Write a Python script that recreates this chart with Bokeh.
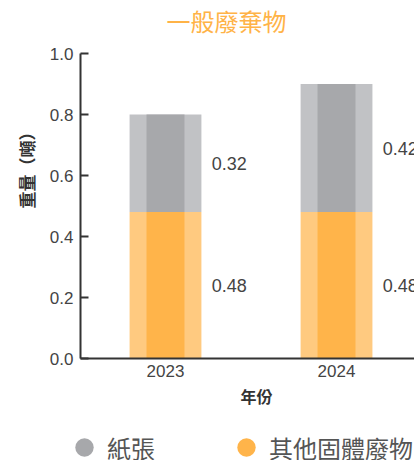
from bokeh.plotting import figure
from bokeh.models import (ColumnDataSource, FixedTicker, Legend, LegendItem, Title, Label,
                          Range1d, NumeralTickFormatter)
from bokeh.embed import file_html
from bokeh.resources import INLINE
from bokeh.core.properties import value

# ---- data ----
years = ["2023", "2024"]
paper = [0.32, 0.42]
other = [0.48, 0.48]
y_ticks = [0.0, 0.2, 0.4, 0.6, 0.8, 1.0]
series_names = ["紙張", "其他固體廢物"]
title_text = "一般廢棄物"
x_label = "年份"
y_label = "重量（噸）"

# ---- styling ----
GRAY_OUT, GRAY_IN = "#C1C2C5", "#A7A8AB"
ORG_OUT, ORG_IN = "#FFCA80", "#FFB44A"
TXT = "#333333"
LATIN = "Liberation Sans"
CJK = "Noto Sans CJK TC"


def strip(height):
    f = figure(width=414, height=height, x_range=Range1d(0, 1), y_range=Range1d(0, 1),
               output_backend="svg", toolbar_location=None, title_location=None,
               x_axis_location=None, y_axis_location=None,
               min_border=0, min_border_left=0, min_border_right=0,
               min_border_top=0, min_border_bottom=0)
    f.outline_line_color = None
    f.grid.visible = False
    f.background_fill_color = "white"
    f.border_fill_color = "white"
    return f


# ---- title strip ----
top_strip = strip(40)
top_strip.add_layout(Label(x=226, y=20.5, x_units="screen", y_units="screen", text=title_text,
                           text_align="center", text_baseline="middle", text_font=CJK,
                           text_font_size="24px", text_color="#FFB347"))

# ---- main chart ----
xs = list(range(len(years)))
top = [o + q for o, q in zip(other, paper)]
src = ColumnDataSource(dict(
    x=xs, other=other, paper=paper, top=top,
    zero=[0] * len(xs),
    mid_other=[o / 2 for o in other],
    mid_paper=[o + q / 2 for o, q in zip(other, paper)],
    lx=[v + 0.27 for v in xs],
    lab_other=[f"{v:.2f}" for v in other],
    lab_paper=[f"{v:.2f}" for v in paper],
))

p = figure(width=414, height=380, x_range=Range1d(-0.497, 1.456), y_range=Range1d(0, 1),
           output_backend="svg", toolbar_location=None, title_location=None,
           min_border_left=80, min_border_right=0, min_border_top=13, min_border_bottom=62)
p.outline_line_color = None
p.grid.visible = False
p.background_fill_color = "white"
p.border_fill_color = "white"

W_OUT, W_IN = 0.42, 0.222
p.vbar(x="x", bottom="zero", top="other", width=W_OUT, source=src, fill_color=ORG_OUT, line_color=None)
p.vbar(x="x", bottom="zero", top="other", width=W_IN, source=src, fill_color=ORG_IN, line_color=None)
p.vbar(x="x", bottom="other", top="top", width=W_OUT, source=src, fill_color=GRAY_OUT, line_color=None)
p.vbar(x="x", bottom="other", top="top", width=W_IN, source=src, fill_color=GRAY_IN, line_color=None)

for col, ycol in (("lab_paper", "mid_paper"), ("lab_other", "mid_other")):
    p.text(x="lx", y=ycol, text=col, source=src, text_align="left", text_baseline="middle",
           text_font=value(LATIN), text_font_size="18px", text_color="#444444")

ya = p.yaxis[0]
ya.ticker = FixedTicker(ticks=y_ticks)
ya.formatter = NumeralTickFormatter(format="0.0")
ya.major_tick_in = 8
ya.major_tick_out = 0
ya.minor_tick_line_color = None
ya.axis_line_width = 2
ya.axis_line_color = TXT
ya.major_tick_line_width = 2
ya.major_tick_line_color = TXT
ya.major_label_text_font = LATIN
ya.major_label_text_font_size = "17px"
ya.major_label_text_color = "#444444"
ya.major_label_standoff = 7

xa = p.xaxis[0]
xa.ticker = FixedTicker(ticks=xs)
xa.major_label_overrides = {i: y for i, y in zip(xs, years)}
xa.major_tick_in = 0
xa.major_tick_out = 0
xa.minor_tick_line_color = None
xa.axis_line_width = 2
xa.axis_line_color = TXT
xa.major_label_text_font = LATIN
xa.major_label_text_font_size = "17px"
xa.major_label_text_color = "#444444"
xa.major_label_standoff = 6

p.add_layout(Title(text=x_label, align="left", offset=160, standoff=5, text_font=CJK,
                   text_font_size="16px", text_font_style="bold", text_color=TXT), "below")
p.add_layout(Title(text=y_label, align="left", offset=150, standoff=15,
                   text_font=CJK, text_font_size="17px", text_font_style="bold",
                   text_color=TXT), "left")

# ---- legend strip ----
lg = strip(40)
r_g = lg.scatter(x=xs, y=paper, size=0, marker="circle", fill_color=GRAY_IN, line_color=None)
r_o = lg.scatter(x=xs, y=other, size=0, marker="circle", fill_color=ORG_IN, line_color=None)
legend = Legend(items=[LegendItem(label=series_names[0], renderers=[r_g]),
                       LegendItem(label=series_names[1], renderers=[r_o])],
                orientation="horizontal", location=(61, -12),
                glyph_width=46, glyph_height=50, label_standoff=0, spacing=68,
                padding=0, margin=0, border_line_color=None, background_fill_alpha=0,
                label_text_font=CJK, label_text_font_size="24px", label_text_color="#555555")
lg.add_layout(legend)

open("out.html", "w").write(file_html([top_strip, p, lg], INLINE))
